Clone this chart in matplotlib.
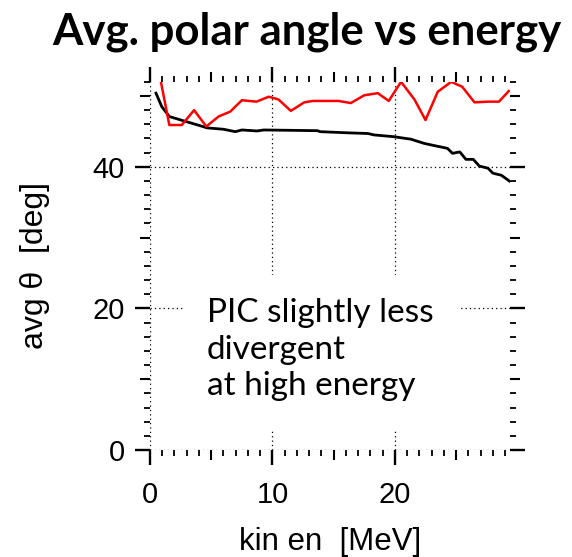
import matplotlib
matplotlib.use('Agg')
import matplotlib.pyplot as plt
from matplotlib.patches import Rectangle
from matplotlib.ticker import MultipleLocator

# tracked particles (black) and PIC (red): mean polar angle per energy bin
track_en = [0.49, 0.96, 1.58, 2.73, 4.1, 4.65, 6.0, 6.97, 7.5, 8.74, 9.3,
            13.66, 13.9, 16.1, 17.8, 18.3, 19.9, 21.3, 22.4, 23.2, 24.3,
            24.7, 25.3, 25.8, 26.4, 26.9, 27.6, 28.0, 28.7, 29.5]
track_theta = [50.4, 48.5, 47.1, 46.5, 45.8, 45.5, 45.3, 44.96, 45.2, 45.06,
               45.2, 45.1, 44.96, 44.8, 44.7, 44.5, 44.25, 43.9, 43.3, 43.0,
               42.6, 41.9, 42.1, 41.05, 41.05, 40.1, 39.8, 39.1, 38.8, 37.8]

pic_en = [0.87, 1.58, 2.6, 3.6, 4.6, 5.6, 6.56, 7.5, 8.7, 9.7, 10.5, 11.5,
          12.6, 13.3, 15.4, 16.4, 17.5, 18.6, 19.5, 20.5, 21.6, 22.5, 23.5,
          24.6, 25.5, 26.5, 27.6, 28.5, 29.3]
pic_theta = [52.2, 45.9, 45.9, 48.0, 45.7, 47.1, 47.8, 49.4, 49.2, 49.9,
             49.5, 47.9, 49.1, 49.3, 49.3, 49.0, 50.1, 50.4, 49.3, 52.0,
             49.5, 46.6, 50.6, 52.0, 51.3, 49.1, 49.2, 49.2, 50.7]

note_lines = ['PIC slightly less', 'divergent', 'at high energy']

plt.rcParams['font.family'] = ['Liberation Sans', 'DejaVu Sans']

fig = plt.figure(figsize=(5.72, 5.57), dpi=100)
ax = fig.add_axes([0.2622, 0.1921, 0.6294, 0.661])

ax.plot(track_en, track_theta, color='black', lw=2.0, zorder=3)
ax.plot(pic_en, pic_theta, color='red', lw=1.8, zorder=3)

ax.set_xlim(0, 29.4)
ax.set_ylim(0, 52)

for s in ax.spines.values():
    s.set_visible(False)

ax.set_xticks([0, 10, 20])
ax.set_yticks([0, 20, 40])
ax.xaxis.set_minor_locator(MultipleLocator(1))
ax.yaxis.set_minor_locator(MultipleLocator(2))
ax.tick_params(which='major', direction='out', length=11, width=1.7,
               top=True, right=True, labelsize=21, pad=7)
ax.tick_params(which='minor', direction='out', length=4.5, width=1.3,
               top=True, right=True)
ax.tick_params(axis='x', which='major', pad=11)

# medium ticks every 5 MeV / 10 deg
for loc in ('top', 'bottom'):
    sec = ax.secondary_xaxis(loc)
    sec.set_xticks([5, 15, 25])
    sec.tick_params(direction='out', length=7, width=1.5,
                    labelbottom=False, labeltop=False)
    sec.spines[loc].set_visible(False)
for loc in ('left', 'right'):
    sec = ax.secondary_yaxis(loc)
    sec.set_yticks([10, 30, 50])
    sec.tick_params(direction='out', length=7, width=1.5,
                    labelleft=False, labelright=False)
    sec.spines[loc].set_visible(False)

ax.grid(True, which='major', color='black', lw=0.9, linestyle=(0, (1, 2.5)))
ax.set_axisbelow(True)

ax.set_xlabel('kin en  [MeV]', fontsize=22.5, labelpad=13)
ax.set_ylabel('avg \u03b8  [deg]', fontsize=23, labelpad=31)

# white panel behind the note
ax.add_patch(Rectangle((0.092, 0.054), 0.772, 0.422, transform=ax.transAxes,
                       facecolor='white', edgecolor='none', zorder=1.5))
ax.text(0.158, 0.413, '\n'.join(note_lines), transform=ax.transAxes,
        fontsize=24, family='Lato', va='top', ha='left', linespacing=1.28,
        zorder=4)

fig.text(0.537, 0.921, 'Avg. polar angle vs energy', fontsize=31.5,
         family='Lato', weight='bold', ha='center', va='baseline')

fig.savefig('out.png', dpi=100)
